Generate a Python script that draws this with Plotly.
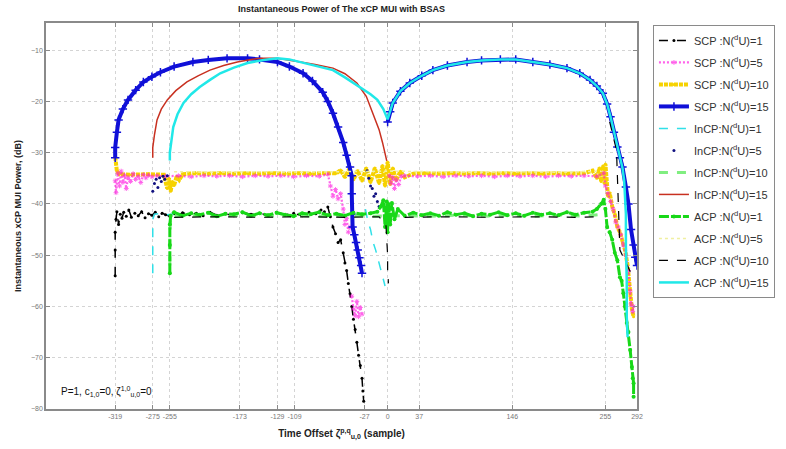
import plotly.graph_objects as go

# ---- axis ticks ----
x_ticks = [-319, -275, -255, -173, -129, -109, -27, 0, 37, 146, 255, 292]
x_tick_text = ["-319", "-275", "-255", "-173", "-129", "-109", "-27", "0", "37", "146", "255", "292"]
y_ticks = [-80, -70, -60, -50, -40, -30, -20, -10]

# ---- series: (time offset, power dB); None breaks a line ----
scp1_pts = [(-319, -54), (-319, -49), (-319, -45.5), (-318, -43), (-317, -41.5), (-315, -44), (-313, -42),
            (-311, -42.8), (-309, -41.6), (-306, -42.4), (-303, -41.2), (-300, -42.6), (-296, -41.8),
            (-292, -42.3), (-288, -41.5), (-284, -42.7), (-280, -41.9), (-276, -42.2), (-272, -41.6),
            (-268, -42.5), (-264, -41.8), (-260, -42.1), (-255, -42.4), (-250, -41.9), (-245, -42.2),
            (-240, -41.7), (-232, -42.1), (-224, -41.8), (-216, -42.3), (-208, -41.6), (-200, -42.2),
            (-190, -41.9), (-180, -42.3), (-170, -41.7), (-160, -42.0), (-150, -41.8), (-140, -42.2),
            (-130, -41.6), (-120, -42.1), (-110, -41.8), (-100, -42.3), (-92, -41.6), (-84, -41.9),
            (-78, -41.2), (-74, -41.5), (-70, -40.6), (-67, -42.5), (-64, -44.5), (-61, -45.8),
            (-58, -47.5), (-55, -47), (-52, -49.5), (-50, -51.5), (-48, -53), (-46, -55.5), (-44, -57.5),
            (-42, -60), (-40, -62.5), (-38, -64.5), (-36, -67), (-34, -69.5), (-32, -71.5), (-30, -74),
            (-29, -76.5), (-28, -78.5)]

scp5_pts = [(-319, -35.5), (-318, -37.8), (-316, -34), (-314, -36.5), (-312, -33.6), (-310, -35.8),
            (-308, -34.4), (-306, -37), (-304, -34.8), (-301, -35.6), (-298, -34.1), (-295, -35.2),
            (-292, -34.6), (-289, -35.8), (-286, -34.3), (-283, -34.9), (-280, -34.4), (-276, -34.7),
            (-270, -34.5), (-260, -34.6), (-245, -34.5), (-230, -34.7), (-215, -34.5), (-200, -34.6),
            (-185, -34.5), (-170, -34.7), (-155, -34.5), (-140, -34.6), (-125, -34.5), (-110, -34.7),
            (-95, -34.5), (-80, -34.6), (-70, -34.2), (-67, -36.5), (-64, -38.5), (-61, -37.2),
            (-58, -39), (-55, -38), (-52, -41), (-50, -44), (-48, -42.8), (-46, -45.5), (-44, -44.5),
            (None, None),
            (-42, -58), (-40, -60.5), (-38, -61.8), (-36, -59), (-34, -62), (-32, -60.2), (-30, -61.5),
            (None, None),
            (2, -34.5), (4, -36), (6, -34.8), (8, -37), (10, -35.2), (13, -36.2), (16, -34.6), (20, -34.5),
            (35, -34.6), (50, -34.5), (65, -34.7), (80, -34.5), (95, -34.6), (110, -34.5), (125, -34.7),
            (140, -34.5), (155, -34.6), (170, -34.5), (185, -34.7), (200, -34.5), (215, -34.6),
            (230, -34.5), (245, -34.6), (253, -34), (255, -36.5), (258, -38), (261, -39.5), (264, -41),
            (267, -43.5), (270, -44.5), (273, -46), (276, -48), (279, -50), (282, -53), (284, -57),
            (285, -59.5), (287, -61), (288, -60)]

scp10_pts = [(-319, -30.8), (-318, -32), (-317, -33.6), (-314, -34.2), (-300, -34.3), (-280, -34.2),
             (-262, -34.3), (-258, -37), (-256, -35), (-254, -37.5), (-252, -35.6), (-250, -36.4),
             (-247, -34.6), (-244, -35.3), (-240, -34.2), (-225, -34.0), (-210, -34.1), (-195, -34.0),
             (-180, -34.1), (-165, -34.0), (-150, -34.1), (-135, -34.0), (-120, -34.1), (-105, -34.0),
             (-90, -34.1), (-75, -34.0), (-60, -34.0), (-55, -33.4), (-50, -34.8), (-45, -33.2),
             (-40, -35.3), (-35, -33.5), (-30, -35.5), (-25, -33), (-20, -35.8), (-15, -33), (-10, -36),
             (-6, -32.5), (-3, -36.5), (0, -31.8), (3, -36.2), (6, -33), (10, -35.4), (15, -33.6),
             (20, -34.8), (30, -34.1), (45, -34.0), (60, -34.1), (75, -34.0), (90, -34.1), (105, -34.0),
             (120, -34.1), (135, -34.0), (150, -34.1), (165, -34.0), (180, -34.1), (195, -34.0),
             (210, -34.1), (230, -34.0), (240, -33.5), (245, -35), (248, -33), (250, -35.6), (252, -32.6),
             (254, -36), (255, -32.2), (256, -35.5), (258, -38.5), (260, -37.8), (263, -40.5), (266, -42),
             (269, -44.5), (272, -45.5), (275, -47.5), (278, -49), (281, -52), (284, -58), (286, -60.5),
             (288, -62)]

scp15_pts = [(-319, -31), (-319, -29), (-317, -26), (-315, -23.6), (-310, -21.5), (-304, -19.7),
             (-295, -17.8), (-286, -16.2), (-276, -15.2), (-266, -14.3), (-250, -13.2), (-228, -12.3),
             (-210, -11.9), (-188, -11.6), (-164, -11.6), (-150, -11.8), (-129, -12.3), (-115, -13.2),
             (-99, -14.5), (-88, -16), (-76, -18.2), (-70, -20), (-64, -22.3), (-58, -25), (-52, -28),
             (-48, -30.5), (-44, -32.8), (-42, -34.5), (-42, -38), (-42, -42), (-41, -44.5), (-39, -46),
             (-37, -47.5), (-35, -49), (-33, -50.5), (-31, -52), (-30, -53.5),
             (None, None),
             (0, -24), (3, -22), (6, -20.3), (15, -18), (26, -16.4), (40, -15), (53, -13.9), (70, -13),
             (93, -12.3), (110, -12), (132, -11.8), (150, -11.8), (170, -12.3), (190, -12.8), (210, -13.5),
             (225, -14.5), (237, -15.8), (245, -17), (252, -18.4), (257, -20.5), (261, -23), (265, -26),
             (269, -28.9), (272, -31), (275, -32.8), (279, -36.7), (282, -40), (285, -45), (288, -48),
             (290, -50.4), (292, -52)]

incp1_pts = [(-275, -53.5), (-275, -50), (-275, -46), (-275, -43), (-273, -42), (-265, -41.8),
             (-258, -42.1), (-250, -41.9),
             (None, None),
             (-26, -41), (-23, -43.5), (-20, -45), (-17, -47.5), (-14, -49), (-11, -51), (-8, -52.5),
             (-5, -54.5), (-3, -56)]

incp5_pts = [(-275, -37.5), (-273, -36), (-271, -35.2), (-269, -36.8), (-267, -34.9), (-265, -35.6),
             (-263, -34.6), (-261, -35.2), (-258, -34.5),
             (-24, -33.5), (-22, -35), (-20, -36.5), (-18, -37), (-16, -38.5), (-14, -38), (-12, -39.5),
             (-10, -40.5)]

incp10_pts = [(-255, -52), (-255, -46), (-254, -42.3), (-230, -42.2), (-200, -42.4), (-170, -42.2),
              (-140, -42.4), (-110, -42.2), (-80, -42.4), (-50, -42.2), (-20, -42.4), (20, -42.3),
              (50, -42.4), (80, -42.2), (110, -42.4), (140, -42.2), (170, -42.4), (200, -42.2),
              (230, -42.4), (250, -42)]

incp15_pts = [(-275, -31), (-275, -29), (-273, -26.5), (-270, -23.6), (-265, -21.5), (-258, -19.7),
              (-248, -17.9), (-235, -16.2), (-222, -15), (-208, -13.9), (-192, -13), (-176, -12.3),
              (-160, -11.8), (-149, -11.6), (-130, -11.6), (-115, -11.9), (-102, -12.3), (-85, -12.8),
              (-64, -13.5), (-50, -14.6), (-36, -16.4), (-25, -19), (-17, -22.3), (-10, -25.5),
              (-6, -28), (-3, -30), (-1, -31.6)]

acp1_pts = [(-255, -53.5), (-255, -48), (-255, -44), (-254, -42.3), (-250, -41.6), (-240, -42.3),
            (-230, -41.8), (-220, -42.1), (-210, -41.7), (-200, -42.4), (-190, -41.9), (-180, -42.0),
            (-170, -41.6), (-160, -42.3), (-150, -41.8), (-140, -42.2), (-130, -41.7), (-120, -42.1),
            (-110, -42.4), (-100, -41.8), (-90, -42.0), (-80, -41.6), (-70, -42.2), (-60, -41.9),
            (-50, -42.3), (-40, -41.7), (-30, -42.0), (-20, -41.8), (-12, -41.5), (-8, -40.5),
            (-5, -39.3), (-3, -44.5), (-1, -39.5), (0, -45.5), (1, -40), (3, -44), (5, -39.8), (8, -43),
            (12, -41), (20, -42.3), (30, -41.7), (40, -42.2), (50, -41.8), (60, -42.3), (70, -41.6),
            (80, -42.1), (90, -41.8), (100, -42.4), (110, -41.9), (120, -42.1), (130, -41.6),
            (140, -42.2), (150, -41.8), (160, -42.3), (170, -41.7), (180, -42.1), (190, -41.8),
            (200, -42.2), (210, -41.6), (220, -42.1), (230, -41.7), (240, -41.5), (245, -41),
            (250, -40), (253, -39.2), (255, -41), (257, -44.5), (260, -45.5), (263, -47), (266, -49.5),
            (269, -51), (272, -54.3), (274, -55), (276, -57.4), (278, -60), (280, -63.2), (282, -65),
            (284, -68.5), (286, -71.8), (287, -74), (288, -75), (288, -77.6)]

acp5_pts = [(-250, -33.7), (-200, -33.8), (-150, -33.7), (-100, -33.8), (-50, -33.7), (0, -33.6),
            (50, -33.7), (100, -33.8), (150, -33.7), (200, -33.8), (250, -33.6)]

acp10_pts = [(-250, -42.6), (-200, -42.5), (-150, -42.6), (-100, -42.5), (-50, -42.6), (-10, -42.5),
             (-2, -44), (-1, -47), (0, -50), (0, -53), (1, -55.5),
             (None, None),
             (20, -42.6), (70, -42.5), (120, -42.6), (170, -42.5), (220, -42.6), (250, -42.5),
             (None, None),
             (260, -24), (268, -29.5), (272, -49), (285, -53.5)]

acp15_pts = [(-255, -31.5), (-255, -30), (-253, -27.5), (-251, -25), (-246, -22.5), (-239, -20.3),
             (-230, -18.6), (-220, -17.2), (-208, -15.8), (-196, -14.5), (-180, -13.4), (-164, -12.5),
             (-145, -11.9), (-129, -11.6), (-115, -11.8), (-102, -12.3), (-85, -13), (-64, -13.9),
             (-50, -15.3), (-32, -17.2), (-20, -18.6), (-12, -19.7), (-5, -21.5), (0, -23.5),
             (3, -22), (6, -20.3), (15, -18), (26, -16.4), (40, -15), (53, -13.9), (70, -13),
             (93, -12.3), (110, -12), (132, -11.8), (150, -11.8), (170, -12.3), (190, -12.8),
             (210, -13.5), (225, -14.5), (237, -15.8), (245, -17), (252, -18.4), (257, -20.5),
             (261, -23), (265, -26), (269, -28.9), (272, -31), (275, -33), (277, -35.5), (278, -38),
             (279, -42), (279, -48), (280, -55), (280, -62), (281, -66)]

NU = "N(<sup>d</sup>U)"
# name, points, line style, marker style, mode, opacity
series = [
    ("SCP :" + NU + "=1", scp1_pts, dict(color="black", width=1.5, dash="dash"),
     dict(symbol="circle", size=3, color="black"), "lines+markers", 1.0),
    ("SCP :" + NU + "=10", scp10_pts, dict(color="#f6d200", width=4, dash="4px,1px"),
     dict(symbol="circle", size=3, color="#f6d200"), "lines+markers", 1.0),
    ("SCP :" + NU + "=5", scp5_pts, dict(color="#ff10e0", width=2.2, dash="2px,2px"),
     dict(symbol="asterisk-open", size=4, color="#ff10e0", line=dict(width=1, color="#ff10e0")),
     "lines+markers", 0.65),
    ("SCP :" + NU + "=15", scp15_pts, dict(color="#1010d8", width=4),
     dict(symbol="cross-thin-open", size=6, color="#1010d8", line=dict(width=1.5, color="#1010d8")),
     "lines+markers", 1.0),
    ("InCP:" + NU + "=1", incp1_pts, dict(color="#30e0e8", width=1.5, dash="dash"), None, "lines", 1.0),
    ("InCP:" + NU + "=5", incp5_pts, None, dict(symbol="circle", size=3, color="#101080"), "markers", 1.0),
    ("InCP:" + NU + "=10", incp10_pts, dict(color="#80ee80", width=3, dash="dash"), None, "lines", 1.0),
    ("InCP:" + NU + "=15", incp15_pts, dict(color="#c83020", width=1.5), None, "lines", 1.0),
    ("ACP :" + NU + "=1", acp1_pts, dict(color="#18d818", width=3, dash="10px,2px"),
     dict(symbol="circle", size=4, color="#18d818"), "lines+markers", 1.0),
    ("ACP :" + NU + "=5", acp5_pts, dict(color="#f0f0a0", width=1.5, dash="dot"), None, "lines", 1.0),
    ("ACP :" + NU + "=10", acp10_pts, dict(color="black", width=1.2, dash="dash"), None, "lines", 1.0),
    ("ACP :" + NU + "=15", acp15_pts, dict(color="#20e8e8", width=2.5), None, "lines", 1.0),
]
legend_order = ["=1", "=5", "=10", "=15"]

fig = go.Figure()
for name, pts, line, marker, mode, alpha in series:
    xs = [p[0] for p in pts]
    ys = [p[1] for p in pts]
    group = name.split(":")[0].strip()
    rank = {"SCP": 0, "InCP": 1, "ACP": 2}[group] * 4 + legend_order.index(name[name.rfind("="):])
    kw = dict(x=xs, y=ys, name=name, mode=mode, connectgaps=False, opacity=alpha,
              legendrank=rank, legendgroup="g%d" % rank)
    if line:
        kw["line"] = line
    if marker:
        kw["marker"] = marker
    fig.add_trace(go.Scatter(**kw))

font_family = "Liberation Sans, Arial, sans-serif"
axis_common = dict(
    showline=True, linecolor="#8a8a8a", linewidth=1.5, mirror="ticks",
    showgrid=True, gridcolor="#d4d4d4", griddash="dot", gridwidth=1,
    ticks="inside", ticklen=4, tickcolor="#8a8a8a",
    tickfont=dict(family=font_family, size=7, color="#777"),
    zeroline=False,
)

fig.update_layout(
    width=786, height=449,
    margin=dict(l=46, r=149, t=23, b=40, autoexpand=False),
    paper_bgcolor="white", plot_bgcolor="white",
    font=dict(family=font_family, color="black"),
    title=dict(text="<b>Instantaneous Power of The xCP MUI with BSAS</b>",
               x=(46 + 637) / 2 / 786, xanchor="center", y=1 - 9 / 449, yanchor="middle",
               font=dict(size=9, color="#222")),
    xaxis=dict(range=[-400, 292], tickvals=x_ticks, ticktext=x_tick_text,
               title=dict(text="<b>Time Offset ζ<sup>p,q</sup><sub>u,0</sub> (sample)</b>",
                          font=dict(size=10, color="#222"), standoff=11),
               **axis_common),
    yaxis=dict(range=[-80, -4.7], tickvals=y_ticks,
               title=dict(text="<b>Instantaneous xCP MUI Power, (dB)</b>",
                          font=dict(size=9, color="#222"), standoff=8),
               **axis_common),
    legend=dict(x=1.027, y=0.995, xanchor="left", yanchor="top",
                bordercolor="#8a8a8a", borderwidth=1, bgcolor="white",
                font=dict(family=font_family, size=11, color="#333"),
                tracegroupgap=3, itemwidth=30),
    showlegend=True,
)

fig.add_annotation(
    x=0.022, y=0.045, xref="paper", yref="paper", xanchor="left", yanchor="middle",
    text="P=1, c<sub>1,0</sub>=0, ζ<sup>1,0</sup><sub>u,0</sub>=0",
    showarrow=False, font=dict(family=font_family, size=10, color="#111"),
)

fig.write_html("out.html")
